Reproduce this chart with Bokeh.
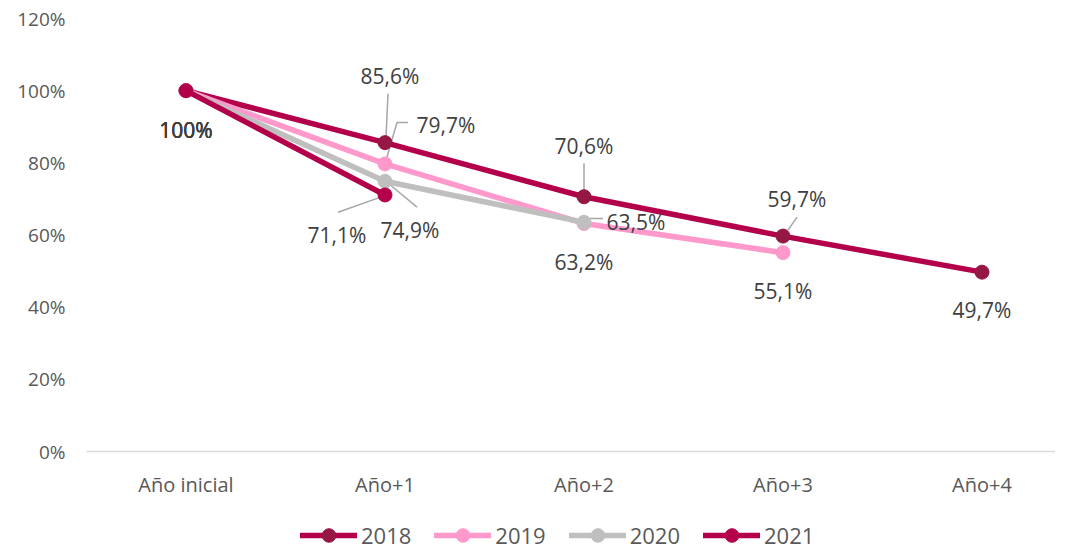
from bokeh.plotting import figure
from bokeh.layouts import column
from bokeh.models import (ColumnDataSource, Legend, LegendItem, FixedTicker,
                          PrintfTickFormatter, Range1d, LabelSet)
from bokeh.core.properties import value
from bokeh.embed import file_html
from bokeh.resources import INLINE

# ---- data ----
categories = ["Año inicial", "Año+1", "Año+2", "Año+3", "Año+4"]
years = ["2018", "2019", "2020", "2021"]
v2018 = [100, 85.6, 70.6, 59.7, 49.7]
v2019 = [100, 79.7, 63.2, 55.1]
v2020 = [100, 74.9, 63.5]
v2021 = [100, 71.1]
y_ticks = [0, 20, 40, 60, 80, 100, 120]

series = [v2018, v2019, v2020, v2021]

# ---- styles ----
line_colors = ["#B4004B", "#FF99CC", "#BFBFBF", "#B4004B"]
marker_colors = ["#951744", "#FF99CC", "#BFBFBF", "#B4004B"]
FONT = "Open Sans"

# label offsets in pixels (dx, dy; dy up)
label_offsets = [
    [(0, -39), (5, 67), (0, 51), (14, 37), (0, -38)],
    [(0, -39), (61, 38.5), (0, -39), (0, -38.5)],
    [(0, -39), (25, -49), (52, 0)],
    [(0, -39), (-48, -40)],
]
# leader lines: (series index, point index, polyline offsets in px)
leaders = [
    (0, 1, [(3, 49), (1, 5)]),
    (1, 1, [(1, 3.5), (12, 41.5), (23, 41.5)]),
    (2, 1, [(2, -1), (32, -26)]),
    (3, 1, [(-5, -2.4), (-47, -17.4)]),
    (0, 2, [(0, 6.5), (0, 33.5)]),
    (2, 2, [(6, 4), (19, 4)]),
    (0, 3, [(5, 6), (14, 19)]),
]

W, H = 1055, 500
BL, BR, BT, BB = 86, 0, 18, 48
frame_w = W - BL - BR
frame_h = H - BT - BB
px_x = 199.0
x_start = -0.5
x_end = x_start + frame_w / px_x
px_y = frame_h / 120.0

p = figure(width=W, height=H, output_backend="svg", toolbar_location=None,
           x_range=Range1d(x_start, x_end), y_range=Range1d(0, 120),
           min_border_left=BL, min_border_right=BR, min_border_top=BT,
           min_border_bottom=BB)
p.outline_line_color = None
p.xgrid.grid_line_color = None
p.ygrid.grid_line_color = None
p.background_fill_color = "white"
p.border_fill_color = "white"

# axes
p.xaxis.ticker = FixedTicker(ticks=list(range(len(categories))))
p.xaxis.major_label_overrides = {i: c for i, c in enumerate(categories)}
p.xaxis.axis_line_color = "#D9D9D9"
p.xaxis.axis_line_width = 1.5
p.xaxis.major_tick_line_color = None
p.xaxis.minor_tick_line_color = None
p.xaxis.major_tick_out = 0
p.xaxis.major_label_standoff = 19
p.xaxis.major_label_text_color = "#595959"
p.xaxis.major_label_text_font = FONT
p.xaxis.major_label_text_font_size = "20px"

p.yaxis.ticker = FixedTicker(ticks=y_ticks)
p.yaxis.formatter = PrintfTickFormatter(format="%d%%")
p.yaxis.axis_line_color = None
p.yaxis.major_tick_line_color = None
p.yaxis.minor_tick_line_color = None
p.yaxis.major_tick_out = 0
p.yaxis.major_label_standoff = 21
p.yaxis.major_label_text_color = "#595959"
p.yaxis.major_label_text_font = FONT
p.yaxis.major_label_text_font_size = "19px"

# leader lines
lx, ly = [], []
for si, pi, pts in leaders:
    x0 = pi
    y0 = series[si][pi]
    lx.append([x0 + dx / px_x for dx, dy in pts])
    ly.append([y0 + dy / px_y for dx, dy in pts])
p.multi_line(xs=lx, ys=ly, line_color="#A6A6A6", line_width=1.5)

# series
sources = []
for k, vals in enumerate(series):
    xs = list(range(len(vals)))
    src = ColumnDataSource(dict(x=xs, y=vals))
    sources.append(src)
    p.line("x", "y", source=src, line_color=line_colors[k], line_width=5.5,
           line_cap="round", line_join="round")
    p.scatter("x", "y", source=src, size=14, fill_color=marker_colors[k],
              line_color=marker_colors[k])

# data labels
for k, vals in enumerate(series):
    txt = ["100%" if v == 100 else f"{v:.1f}%".replace(".", ",") for v in vals]
    src = ColumnDataSource(dict(
        x=list(range(len(vals))), y=vals, t=txt,
        dx=[o[0] for o in label_offsets[k]],
        dy=[o[1] for o in label_offsets[k]]))
    p.add_layout(LabelSet(x="x", y="y", text="t", x_offset="dx", y_offset="dy",
                          source=src, text_align="center", text_baseline="middle",
                          text_color="#404040", text_font=value(FONT),
                          text_font_size="21px"))

# ---- legend strip (separate figure below the chart, same data, out of view) ----
LH = 50
lg = figure(width=W, height=LH, output_backend="svg", toolbar_location=None,
            x_range=Range1d(100, 101), y_range=Range1d(1000, 1001),
            min_border_left=0, min_border_right=0, min_border_top=0,
            min_border_bottom=0, x_axis_type=None, y_axis_type=None)
lg.outline_line_color = None
lg.xgrid.grid_line_color = None
lg.ygrid.grid_line_color = None
items = []
for k in range(len(series)):
    r1 = lg.line("x", "y", source=sources[k], line_color=line_colors[k],
                 line_width=5.5, line_cap="round")
    r2 = lg.scatter("x", "y", source=sources[k], size=14,
                    fill_color=marker_colors[k], line_color=marker_colors[k])
    items.append(LegendItem(label=years[k], renderers=[r1, r2]))

legend = Legend(items=items, orientation="horizontal", location=(214, -2),
                glyph_width=57, glyph_height=34, label_standoff=4, spacing=23,
                padding=0, margin=0, border_line_color=None,
                background_fill_alpha=0,
                label_text_font=FONT, label_text_font_size="22px",
                label_text_color="#595959")
lg.add_layout(legend, "center")

layout = column(p, lg, spacing=0)
open("out.html", "w").write(file_html(layout, INLINE))
